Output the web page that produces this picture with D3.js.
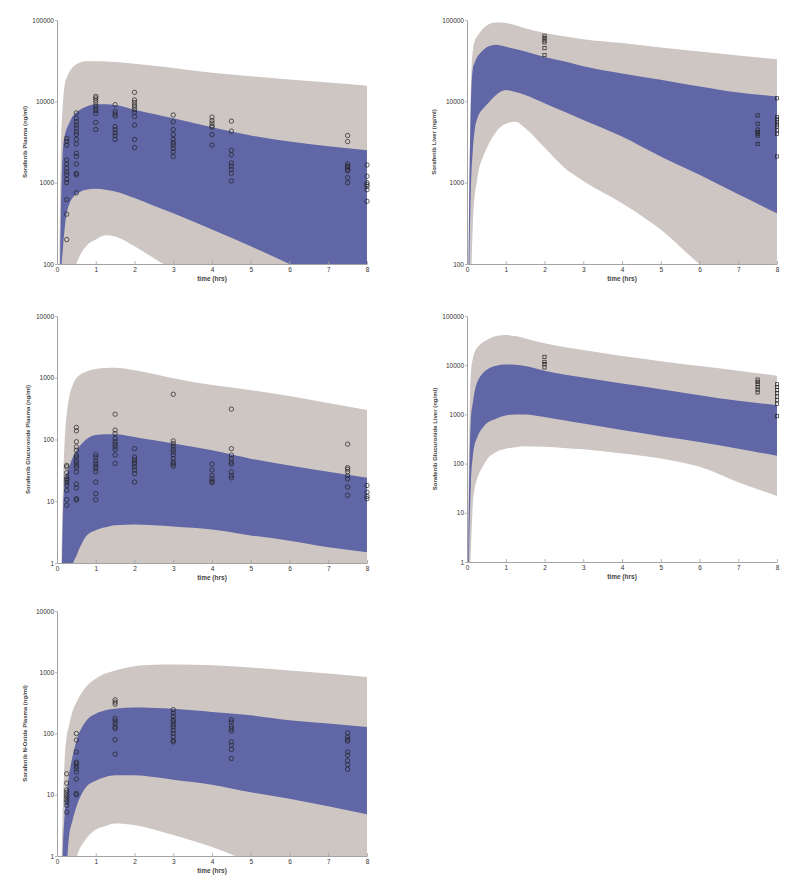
<!DOCTYPE html>
<html>
<head>
<meta charset="utf-8">
<script src="https://cdn.jsdelivr.net/npm/d3@7"></script>
<style>
  body { margin: 0; background: #fff; }
  svg { display: block; font-family: "Liberation Sans", Arial, sans-serif; }
</style>
</head>
<body>
<div id="chart"></div>
<script>
// times at which the prediction bands are given (hrs)
var bandTimes = [0, 0.05, 0.1, 0.15, 0.2, 0.25, 0.3, 0.4, 0.5, 0.75, 1, 1.25, 1.5, 2, 2.5, 3, 4, 5, 6, 7, 8];

// Sorafenib plasma
var plasmaOuterHigh = [1, 30, 2500, 9000, 16000, 19500, 22000, 26000, 28500, 31000, 31000, 30800, 30500, 29000, 27300, 25700, 22500, 20400, 18600, 17000, 15500];
var plasmaInnerHigh = [0.5, 10, 400, 2500, 3800, 4600, 5200, 6500, 7300, 8600, 9200, 9200, 9000, 7900, 7000, 6200, 4800, 3800, 3200, 2800, 2500];
var plasmaInnerLow  = [0.1, 1, 60, 150, 280, 420, 520, 650, 720, 820, 840, 820, 780, 650, 520, 420, 265, 165, 100, 60, 37];
var plasmaOuterLow  = [0.01, 0.1, 1, 5, 12, 25, 40, 70, 100, 165, 200, 225, 218, 165, 118, 85, 50, 30, 18, 11, 7];
var plasmaObsTimes = [0.25, 0.5, 1, 1.5, 2, 3, 4, 4.5, 7.5, 8];
var plasmaObs = [
  [3500, 3200, 2900, 1900, 1700, 1500, 1350, 1250, 1100, 1000, 620, 410, 200],
  [7200, 6200, 5600, 5100, 4700, 4200, 3900, 3400, 3000, 2300, 2100, 1700, 1300, 1250, 750],
  [11500, 11000, 10300, 9600, 8800, 8200, 7700, 7100, 5500, 4500],
  [9100, 7500, 7000, 6600, 4900, 4500, 4100, 3800, 3400],
  [12900, 10400, 9700, 9000, 8500, 7900, 7300, 6500, 5100, 3400, 2700],
  [6800, 5600, 4500, 3900, 3400, 3100, 2900, 2650, 2400, 2100],
  [6400, 5800, 5400, 5000, 4800, 3900, 2900],
  [5700, 4300, 2500, 2200, 1750, 1600, 1450, 1300, 1050],
  [3800, 3200, 1700, 1600, 1550, 1450, 1400, 1150, 1000],
  [1650, 1200, 1000, 950, 900, 820, 590]
];

// Sorafenib liver
var liverOuterHigh = [1, 300, 15000, 42000, 55000, 62000, 67000, 77000, 85000, 93000, 92000, 86000, 79000, 69000, 63000, 58000, 52000, 46000, 41000, 36500, 33000];
var liverInnerHigh = [0.5, 300, 9000, 25000, 30000, 34000, 37000, 42000, 46000, 49500, 47000, 44000, 41000, 35000, 31000, 27000, 22000, 18400, 15200, 12800, 11500];
var liverInnerLow  = [0.1, 40, 800, 2500, 4500, 5800, 6800, 8000, 9000, 12000, 13800, 13000, 12000, 9500, 7500, 5900, 3700, 2100, 1250, 720, 420];
var liverOuterLow  = [0.01, 1, 40, 300, 700, 1000, 1400, 2000, 2600, 4200, 5300, 5600, 4700, 2700, 1550, 1050, 560, 265, 100, 45, 20];
var liverObsTimes = [2, 7.5, 8];
var liverObs = [
  [64000, 60000, 56000, 53000, 45000, 37000],
  [6700, 5300, 4500, 4200, 4000, 3800, 3000],
  [10900, 6400, 6000, 5600, 5200, 4900, 4400, 4000, 2100]
];

// Sorafenib glucuronide plasma
var glucPlasmaOuterHigh = [0.001, 0.01, 0.3, 15, 100, 250, 430, 750, 980, 1250, 1390, 1440, 1450, 1320, 1150, 980, 760, 630, 505, 390, 300];
var glucPlasmaInnerHigh = [0.001, 0.01, 0.1, 5, 20, 28, 34, 50, 65, 100, 118, 122, 122, 110, 97, 86, 67, 49, 38, 30, 24];
var glucPlasmaInnerLow  = [0.0001, 0.001, 0.005, 0.01, 0.02, 0.05, 0.1, 0.9, 1.3, 2.7, 3.4, 3.8, 4.1, 4.2, 4.1, 3.9, 3.5, 2.8, 2.3, 1.8, 1.5];
var glucPlasmaOuterLow  = [0.00001, 0.00001, 0.0001, 0.0001, 0.0001, 0.0001, 0.0001, 0.05, 0.1, 0.2, 0.3, 0.35, 0.4, 0.4, 0.38, 0.35, 0.3, 0.25, 0.2, 0.15, 0.1];
var glucPlasmaObsTimes = [0.25, 0.5, 1, 1.5, 2, 3, 4, 4.5, 7.5, 8];
var glucPlasmaObs = [
  [38, 36, 29, 25, 23, 22, 20, 18, 15, 10.6, 8.6],
  [157, 138, 92, 76, 67, 56, 52, 46, 42, 38, 35, 30, 19, 16.5, 11, 10.5],
  [57, 52, 45, 41, 37, 34, 30, 20.5, 13.3, 10.6],
  [257, 142, 125, 104, 92, 84, 76, 69, 56, 41],
  [71, 52, 47, 43, 40, 36, 32, 28, 20.5],
  [540, 95, 86, 78, 69, 63, 56, 49, 43, 40, 37],
  [40, 32, 26, 23, 21, 20],
  [310, 71, 56, 49, 43, 40, 30, 26, 24],
  [84, 35, 33, 30, 26, 23, 17, 12.5],
  [18, 14, 12, 11]
];

// Sorafenib glucuronide liver
var glucLiverOuterHigh = [0.01, 137, 6800, 13700, 18500, 22000, 24500, 29000, 32000, 39000, 41000, 39000, 35000, 27800, 23500, 20300, 15300, 12100, 9600, 7700, 6100];
var glucLiverInnerHigh = [0.005, 20, 800, 1700, 3000, 4200, 5200, 6800, 8000, 9800, 10300, 10200, 9600, 7700, 6500, 5650, 4250, 3250, 2450, 1890, 1540];
var glucLiverInnerLow  = [0.001, 1, 40, 140, 250, 320, 400, 530, 650, 820, 950, 1000, 1000, 890, 760, 650, 480, 360, 275, 200, 144];
var glucLiverOuterLow  = [0.0001, 0.1, 1.7, 15, 32, 46, 60, 85, 117, 173, 200, 215, 225, 220, 208, 195, 160, 127, 86, 42, 22];
var glucLiverObsTimes = [2, 7.5, 8];
var glucLiverObs = [
  [14800, 11700, 10500, 9000],
  [5100, 4600, 4100, 3600, 3200, 2800],
  [4100, 3600, 3100, 2700, 2300, 1950, 1650, 920]
];

// Sorafenib N-oxide plasma
var noxOuterHigh = [0.001, 0.01, 0.3, 6, 40, 90, 125, 230, 320, 580, 785, 950, 1070, 1250, 1320, 1340, 1300, 1190, 1070, 950, 840];
var noxInnerHigh = [0.0001, 0.001, 0.05, 1.2, 5, 11, 19, 42, 75, 160, 210, 240, 254, 265, 262, 254, 225, 198, 164, 145, 128];
var noxInnerLow  = [0.00001, 0.0001, 0.001, 0.01, 0.1, 0.6, 1.8, 3.8, 6.3, 13.4, 17, 19.5, 20.8, 20.8, 19.5, 17.6, 14.6, 11, 8.6, 6.5, 4.8];
var noxOuterLow  = [0.00001, 0.0001, 0.001, 0.005, 0.02, 0.05, 0.1, 0.3, 0.9, 1.9, 2.7, 3.1, 3.4, 3.2, 2.7, 2.2, 1.4, 0.8, 0.5, 0.3, 0.2];
var noxObsTimes = [0.25, 0.5, 1.5, 3, 4.5, 7.5];
var noxObs = [
  [22, 15.5, 12, 11, 10, 9.2, 8.3, 7.6, 6.7, 5.2],
  [100, 78, 50, 34, 32, 29, 26.5, 23.5, 18, 10.5, 10],
  [355, 325, 300, 175, 160, 145, 128, 120, 79, 46],
  [245, 215, 190, 168, 155, 140, 128, 113, 100, 88, 77, 73],
  [168, 154, 131, 120, 110, 73, 64, 55, 39],
  [102, 88, 80, 75, 50, 44, 36, 31, 26]
];

var xTicks = [0, 1, 2, 3, 4, 5, 6, 7, 8];

var panels = [
  { label: "Sorafenib Plasma (ng/ml)", left: 57, top: 20, bottom: 264, yMin: 100, yMax: 100000,
    yTicks: [100, 1000, 10000, 100000], titleX: 25,
    bands: [plasmaOuterLow, plasmaInnerLow, plasmaInnerHigh, plasmaOuterHigh],
    obsT: plasmaObsTimes, obs: plasmaObs, marker: "circle" },
  { label: "Sorafenib Liver (ng/ml)", left: 467, top: 20, bottom: 264, yMin: 100, yMax: 100000,
    yTicks: [100, 1000, 10000, 100000], titleX: 434,
    bands: [liverOuterLow, liverInnerLow, liverInnerHigh, liverOuterHigh],
    obsT: liverObsTimes, obs: liverObs, marker: "square" },
  { label: "Sorafenib Glucuronide Plasma (ng/ml)", left: 57, top: 316, bottom: 563, yMin: 1, yMax: 10000,
    yTicks: [1, 10, 100, 1000, 10000], titleX: 28,
    bands: [glucPlasmaOuterLow, glucPlasmaInnerLow, glucPlasmaInnerHigh, glucPlasmaOuterHigh],
    obsT: glucPlasmaObsTimes, obs: glucPlasmaObs, marker: "circle" },
  { label: "Sorafenib Glucuronide Liver (ng/ml)", left: 467, top: 316, bottom: 562, yMin: 1, yMax: 100000,
    yTicks: [1, 10, 100, 1000, 10000, 100000], titleX: 435,
    bands: [glucLiverOuterLow, glucLiverInnerLow, glucLiverInnerHigh, glucLiverOuterHigh],
    obsT: glucLiverObsTimes, obs: glucLiverObs, marker: "square" },
  { label: "Sorafenib N-Oxide Plasma (ng/ml)", left: 57, top: 611, bottom: 856, yMin: 1, yMax: 10000,
    yTicks: [1, 10, 100, 1000, 10000], titleX: 25,
    bands: [noxOuterLow, noxInnerLow, noxInnerHigh, noxOuterHigh],
    obsT: noxObsTimes, obs: noxObs, marker: "circle" }
];

var w = 800, h = 891, plotW = 310;
var grayFill = "#cdc6c3", blueFill = "#6066a6", axisColor = "#a3a3a3";

var svg = d3.select("#chart").append("svg")
  .attr("width", w)
  .attr("height", h);

panels.forEach(function(p, i) {
  var x = d3.scaleLinear().domain([0, 8]).range([p.left, p.left + plotW]);
  var y = d3.scaleLog().domain([p.yMin, p.yMax]).range([p.bottom, p.top]);

  var g = svg.append("g");

  var clipId = "clip" + i;
  g.append("clipPath").attr("id", clipId)
    .append("rect")
    .attr("x", p.left).attr("y", p.top)
    .attr("width", plotW).attr("height", p.bottom - p.top);

  // x axis with small inward ticks
  var xAxis = g.append("g")
    .attr("transform", "translate(0," + p.bottom + ")")
    .call(d3.axisBottom(x).tickValues(xTicks).tickFormat(d3.format("d"))
      .tickSizeInner(-3).tickSizeOuter(0).tickPadding(3));

  // bands
  var bandG = g.append("g").attr("clip-path", "url(#" + clipId + ")");
  function area(lo, hi) {
    return d3.area()
      .curve(d3.curveMonotoneX)
      .x(function(d, k) { return x(bandTimes[k]); })
      .y0(function(d, k) { return y(lo[k]); })
      .y1(function(d, k) { return y(hi[k]); })(bandTimes);
  }
  bandG.append("path").attr("d", area(p.bands[0], p.bands[3])).attr("fill", grayFill);
  bandG.append("path").attr("d", area(p.bands[1], p.bands[2])).attr("fill", blueFill);

  // y axis
  var yAxis = g.append("g")
    .attr("transform", "translate(" + p.left + ",0)")
    .call(d3.axisLeft(y).tickValues(p.yTicks).tickFormat(d3.format("d"))
      .tickSizeInner(2).tickSizeOuter(0).tickPadding(1));

  [xAxis, yAxis].forEach(function(ax) {
    ax.select(".domain").attr("stroke", axisColor).attr("stroke-width", 1);
    ax.selectAll(".tick line").attr("stroke", axisColor).attr("stroke-width", 0.8);
    ax.selectAll(".tick text").attr("fill", "#333").attr("font-size", "6.5px")
      .attr("font-family", "Liberation Sans, Arial, sans-serif");
  });
  // put the x axis line above the bands
  xAxis.raise();

  // axis titles
  g.append("text")
    .text("time (hrs)")
    .attr("x", p.left + plotW / 2)
    .attr("y", p.bottom + 17)
    .attr("text-anchor", "middle")
    .attr("font-size", "6.5px")
    .attr("font-weight", "bold")
    .attr("fill", "#444");

  g.append("text")
    .text(p.label)
    .attr("transform", "translate(" + p.titleX + "," + ((p.top + p.bottom) / 2) + ") rotate(-90)")
    .attr("text-anchor", "middle")
    .attr("dy", "0.35em")
    .attr("font-size", "6px")
    .attr("font-weight", "bold")
    .attr("fill", "#444");

  // observations
  var pts = [];
  p.obsT.forEach(function(t, k) {
    p.obs[k].forEach(function(v) { pts.push([t, v]); });
  });

  if (p.marker === "circle") {
    g.selectAll("circle.obs")
      .data(pts)
      .enter()
      .append("circle")
      .attr("class", "obs")
      .attr("cx", function(d) { return x(d[0]); })
      .attr("cy", function(d) { return y(d[1]); })
      .attr("r", 2.2)
      .attr("fill", "none")
      .attr("stroke", "#222")
      .attr("stroke-width", 0.7);
  } else {
    g.selectAll("rect.obs")
      .data(pts)
      .enter()
      .append("rect")
      .attr("class", "obs")
      .attr("x", function(d) { return x(d[0]) - 1.6; })
      .attr("y", function(d) { return y(d[1]) - 1.6; })
      .attr("width", 3.2)
      .attr("height", 3.2)
      .attr("fill", "none")
      .attr("stroke", "#222")
      .attr("stroke-width", 0.7);
  }
});
</script>
</body>
</html>
